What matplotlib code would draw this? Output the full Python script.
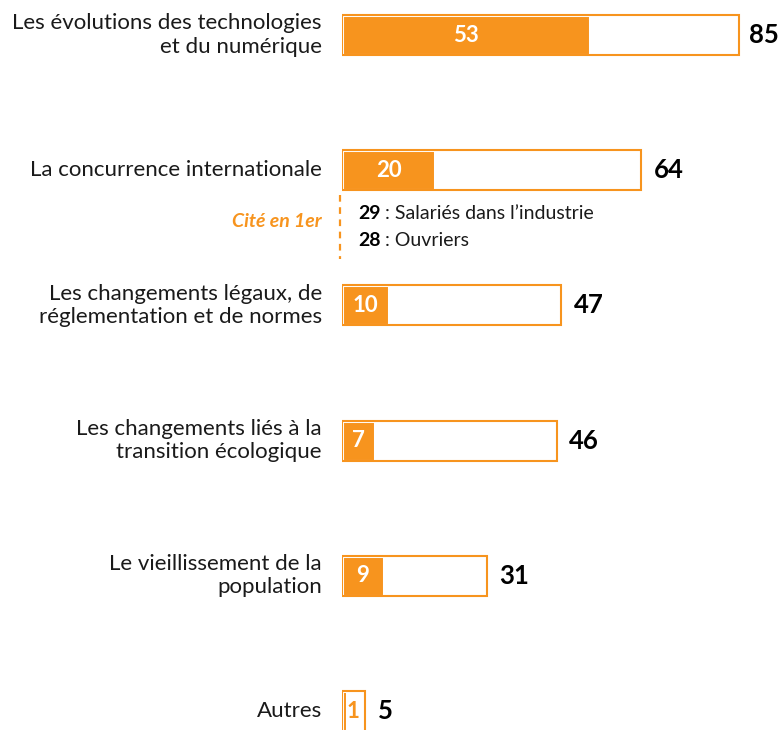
import matplotlib.pyplot as plt

plt.rcParams["font.family"] = ["Lato", "DejaVu Sans"]

# data
labels = [
    "Les évolutions des technologies\net du numérique",
    "La concurrence internationale",
    "Les changements légaux, de\nréglementation et de normes",
    "Les changements liés à la\ntransition écologique",
    "Le vieillissement de la\npopulation",
    "Autres",
]
totals = [85, 64, 47, 46, 31, 5]
first = [53, 20, 10, 7, 9, 1]
sub_values = [29, 28]
sub_labels = ["Salariés dans l\u2019industrie", "Ouvriers"]

orange = "#F7941E"

fig = plt.figure(figsize=(7.79, 7.30), dpi=100)
# x=0 at 342px, 4.67 px per point
ax = fig.add_axes([342 / 779, 0, 437 / 779, 1])
xmax = 437 / 4.67
ax.set_xlim(0, xmax)
ax.set_ylim((730 - 35) / 135.2, -35 / 135.2)
ax.axis("off")

pos = list(range(len(labels)))
h = 0.296
ax.barh(pos, totals, height=h, color="white", linewidth=0, zorder=1)
ax.barh(pos, first, height=h, color=orange, edgecolor="white", linewidth=2.2, zorder=2)
ax.barh(pos, totals, height=h, facecolor="none", edgecolor=orange, linewidth=1.5, zorder=3)

for i in pos:
    ax.text(-4.3, i, labels[i], ha="right", va="center", ma="right",
            fontsize=16, color="#1a1a1a", linespacing=1.2)
    # keep the value inside the picture for the longest bar
    ax.text(min(totals[i] + 2.7, xmax - 6.4), i, str(totals[i]), ha="left",
            va="center", fontsize=18.5, fontweight="bold", color="black")
    if first[i] > 3:
        ax.text(first[i] / 2, i, str(first[i]), ha="center", va="center",
                fontsize=16, fontweight="bold", color="white", zorder=4)
    else:
        ax.text(1.0, i, str(first[i]), ha="left", va="center",
                fontsize=16, fontweight="bold", color=orange, zorder=4,
                bbox=dict(facecolor="white", edgecolor="none", pad=0.5))

# "Cité en 1er" callout
ax.plot([-0.43, -0.43], [1.18, 1.66], color=orange, linestyle=(0, (3, 2.5)),
        linewidth=1.6, clip_on=False)
ax.text(-4.3, 1.383, "Cité en 1er", ha="right", va="center", fontsize=14,
        fontweight="bold", fontstyle="italic", color=orange)
for k, (v, s) in enumerate(zip(sub_values, sub_labels)):
    t = ax.text(3.4, 1.317 + 0.2 * k, str(v), ha="left", va="center",
                fontsize=14, fontweight="bold", color="black")
    ax.annotate(" : " + s, xy=(1, 0), xycoords=t, va="bottom", ha="left",
                fontsize=14, color="#1a1a1a")

fig.savefig("out.png", dpi=100)
